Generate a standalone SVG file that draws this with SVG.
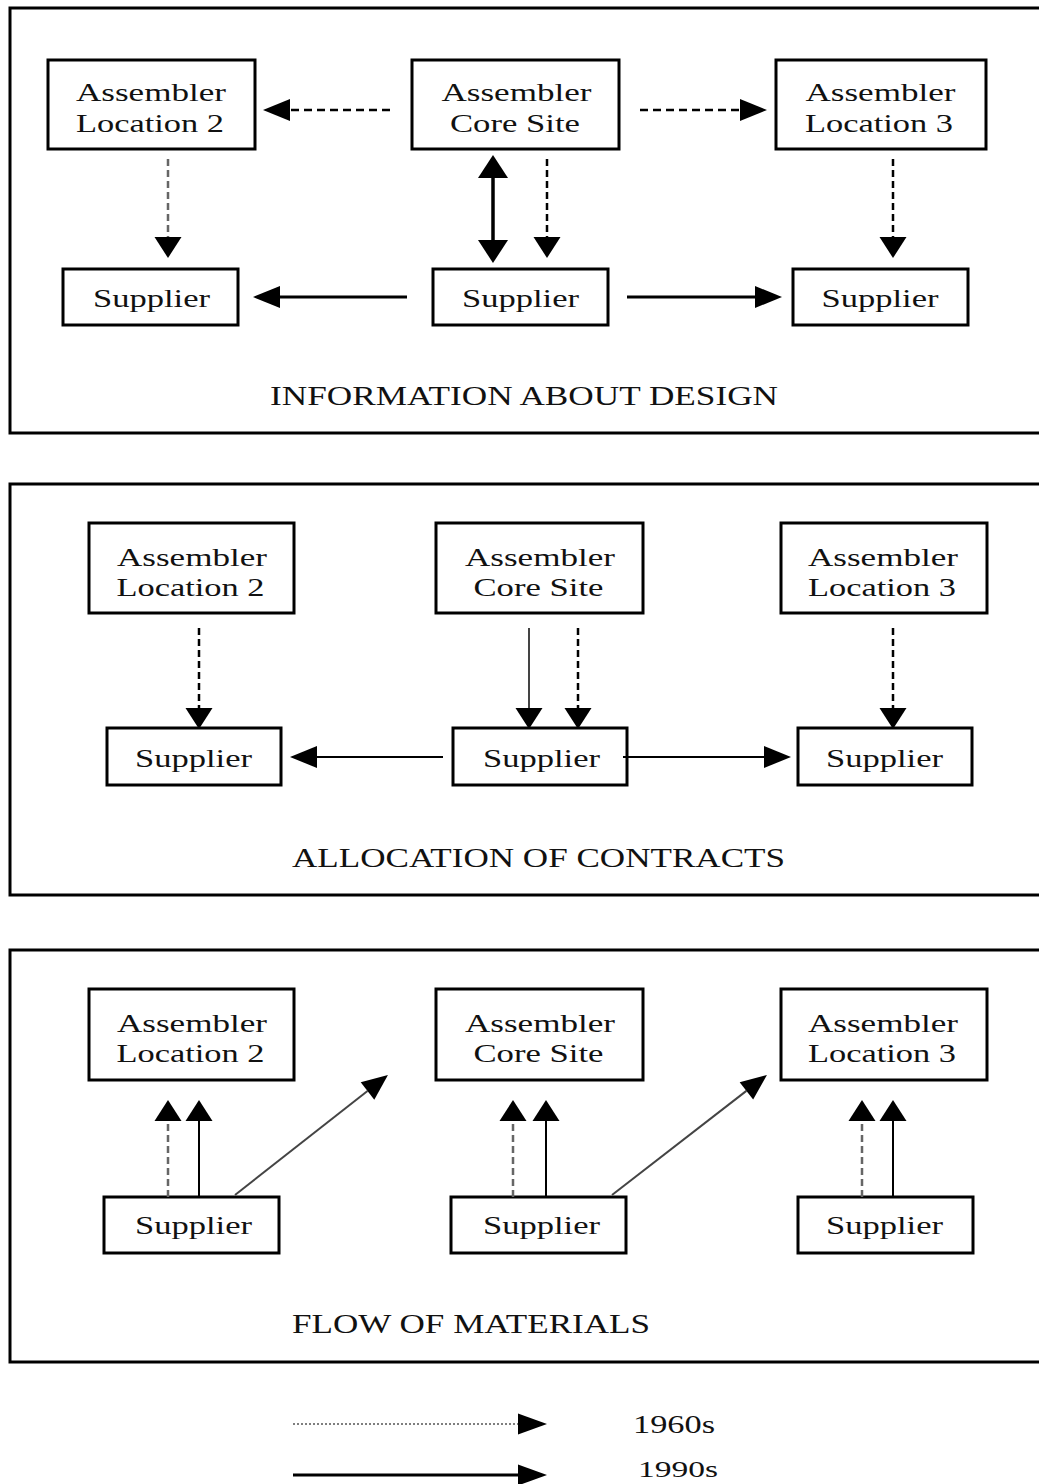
<svg xmlns="http://www.w3.org/2000/svg" width="1039" height="1484" viewBox="0 0 1039 1484">
<style>
.frame{fill:none;stroke:#000;stroke-width:3}
.box{fill:#fff;stroke:#000;stroke-width:3}
.t{font-family:"Liberation Serif","Times New Roman",serif;font-size:26px;fill:#111;text-anchor:middle}
.title{font-family:"Liberation Serif","Times New Roman",serif;font-size:27px;fill:#111}
.c{fill:none;stroke:#000}
.s3{stroke-width:3}
.s2{stroke-width:2}
.d{stroke-dasharray:8,5;stroke-width:2.5}
.dv{stroke-dasharray:7,4;stroke-width:2.5}
.g{stroke:#666}
.gs{stroke:#444}
</style>
<defs>
<marker id="mH" markerUnits="userSpaceOnUse" markerWidth="28" markerHeight="22" refX="0" refY="11" orient="auto" overflow="visible"><path d="M0,0 L27,11 L0,22 z" fill="#000"/></marker>
<marker id="mV" markerUnits="userSpaceOnUse" markerWidth="22" markerHeight="27" refX="0" refY="13.5" orient="auto" overflow="visible"><path d="M0,0 L21,13.5 L0,27 z" fill="#000"/></marker>
<marker id="mB" markerUnits="userSpaceOnUse" markerWidth="23" markerHeight="30" refX="0" refY="15" orient="auto-start-reverse" overflow="visible"><path d="M0,0 L23,15 L0,30 z" fill="#000"/></marker>
<marker id="mD" markerUnits="userSpaceOnUse" markerWidth="26" markerHeight="22" refX="0" refY="11" orient="auto" overflow="visible"><path d="M0,0 L26,11 L0,22 z" fill="#000"/></marker>
<marker id="mL" markerUnits="userSpaceOnUse" markerWidth="29" markerHeight="21" refX="0" refY="10.5" orient="auto" overflow="visible"><path d="M0,0 L29,10.5 L0,21 z" fill="#000"/></marker>
</defs>
<rect width="1039" height="1484" fill="#fff"/>

<!-- Panel frames -->
<g id="panels">
<rect class="frame" x="10" y="8" width="1040" height="425"/>
<rect class="frame" x="10" y="484" width="1040" height="411"/>
<rect class="frame" x="10" y="950" width="1040" height="412"/>
</g>

<!-- Panel 1 nodes -->
<g id="p1-loc2"><rect class="box" x="48" y="60" width="207" height="89"/><text class="t" x="151" y="101" textLength="150" lengthAdjust="spacingAndGlyphs">Assembler</text><text class="t" x="150" y="132" textLength="148" lengthAdjust="spacingAndGlyphs">Location 2</text></g>
<g id="p1-core"><rect class="box" x="412" y="60" width="207" height="89"/><text class="t" x="516.5" y="101" textLength="150" lengthAdjust="spacingAndGlyphs">Assembler</text><text class="t" x="515" y="132" textLength="130" lengthAdjust="spacingAndGlyphs">Core Site</text></g>
<g id="p1-loc3"><rect class="box" x="776" y="60" width="210" height="89"/><text class="t" x="880.5" y="101" textLength="150" lengthAdjust="spacingAndGlyphs">Assembler</text><text class="t" x="879" y="132" textLength="148" lengthAdjust="spacingAndGlyphs">Location 3</text></g>
<g id="p1-sup-l"><rect class="box" x="63" y="269" width="175" height="56"/><text class="t" x="151.5" y="307" textLength="117" lengthAdjust="spacingAndGlyphs">Supplier</text></g>
<g id="p1-sup-m"><rect class="box" x="433" y="269" width="175" height="56"/><text class="t" x="520.5" y="307" textLength="117" lengthAdjust="spacingAndGlyphs">Supplier</text></g>
<g id="p1-sup-r"><rect class="box" x="793" y="269" width="175" height="56"/><text class="t" x="880" y="307" textLength="117" lengthAdjust="spacingAndGlyphs">Supplier</text></g>
<text class="title" x="270" y="405" textLength="508" lengthAdjust="spacingAndGlyphs">INFORMATION ABOUT DESIGN</text>

<!-- Panel 2 nodes -->
<g id="p2-loc2"><rect class="box" x="89" y="523" width="205" height="90"/><text class="t" x="192" y="566" textLength="150" lengthAdjust="spacingAndGlyphs">Assembler</text><text class="t" x="190.5" y="596" textLength="148" lengthAdjust="spacingAndGlyphs">Location 2</text></g>
<g id="p2-core"><rect class="box" x="436" y="523" width="207" height="90"/><text class="t" x="540" y="566" textLength="150" lengthAdjust="spacingAndGlyphs">Assembler</text><text class="t" x="538.5" y="596" textLength="130" lengthAdjust="spacingAndGlyphs">Core Site</text></g>
<g id="p2-loc3"><rect class="box" x="781" y="523" width="206" height="90"/><text class="t" x="883" y="566" textLength="150" lengthAdjust="spacingAndGlyphs">Assembler</text><text class="t" x="882" y="596" textLength="148" lengthAdjust="spacingAndGlyphs">Location 3</text></g>
<g id="p2-sup-l"><rect class="box" x="107" y="728" width="174" height="57"/><text class="t" x="193.5" y="767" textLength="117" lengthAdjust="spacingAndGlyphs">Supplier</text></g>
<g id="p2-sup-m"><rect class="box" x="453" y="728" width="174" height="57"/><text class="t" x="541.5" y="767" textLength="117" lengthAdjust="spacingAndGlyphs">Supplier</text></g>
<g id="p2-sup-r"><rect class="box" x="798" y="728" width="174" height="57"/><text class="t" x="884.5" y="767" textLength="117" lengthAdjust="spacingAndGlyphs">Supplier</text></g>
<text class="title" x="292" y="867" textLength="493" lengthAdjust="spacingAndGlyphs">ALLOCATION OF CONTRACTS</text>

<!-- Panel 3 nodes -->
<g id="p3-loc2"><rect class="box" x="89" y="989" width="205" height="91"/><text class="t" x="192" y="1032" textLength="150" lengthAdjust="spacingAndGlyphs">Assembler</text><text class="t" x="190.5" y="1062" textLength="148" lengthAdjust="spacingAndGlyphs">Location 2</text></g>
<g id="p3-core"><rect class="box" x="436" y="989" width="207" height="91"/><text class="t" x="540" y="1032" textLength="150" lengthAdjust="spacingAndGlyphs">Assembler</text><text class="t" x="538.5" y="1062" textLength="130" lengthAdjust="spacingAndGlyphs">Core Site</text></g>
<g id="p3-loc3"><rect class="box" x="781" y="989" width="206" height="91"/><text class="t" x="883" y="1032" textLength="150" lengthAdjust="spacingAndGlyphs">Assembler</text><text class="t" x="882" y="1062" textLength="148" lengthAdjust="spacingAndGlyphs">Location 3</text></g>
<g id="p3-sup-l"><rect class="box" x="104" y="1197" width="175" height="56"/><text class="t" x="193.5" y="1234" textLength="117" lengthAdjust="spacingAndGlyphs">Supplier</text></g>
<g id="p3-sup-m"><rect class="box" x="451" y="1197" width="175" height="56"/><text class="t" x="541.5" y="1234" textLength="117" lengthAdjust="spacingAndGlyphs">Supplier</text></g>
<g id="p3-sup-r"><rect class="box" x="798" y="1197" width="175" height="56"/><text class="t" x="884.5" y="1234" textLength="117" lengthAdjust="spacingAndGlyphs">Supplier</text></g>
<text class="title" x="292" y="1333" textLength="358" lengthAdjust="spacingAndGlyphs">FLOW OF MATERIALS</text>

<!-- Connectors -->
<g id="connectors">
<!-- panel 1 -->
<path class="c d" d="M390,110 H290" marker-end="url(#mH)"/>
<path class="c d" d="M640,110 H740" marker-end="url(#mH)"/>
<path class="c" style="stroke-width:3.5" d="M493,178 V240" marker-start="url(#mB)" marker-end="url(#mB)"/>
<path class="c dv" d="M547,159 V237" marker-end="url(#mV)"/>
<path class="c dv g" d="M168,159 V237" marker-end="url(#mV)"/>
<path class="c dv" d="M893,159 V237" marker-end="url(#mV)"/>
<path class="c s3" d="M407,297 H280" marker-end="url(#mH)"/>
<path class="c s3" d="M627,297 H755" marker-end="url(#mH)"/>
<!-- panel 2 -->
<path class="c dv" d="M199,628 V708" marker-end="url(#mV)"/>
<path class="c s2 gs" d="M529,628 V708" marker-end="url(#mV)"/>
<path class="c dv" d="M578,628 V708" marker-end="url(#mV)"/>
<path class="c dv" d="M893,628 V708" marker-end="url(#mV)"/>
<path class="c s2" d="M443,757 H317" marker-end="url(#mH)"/>
<path class="c s2" d="M623,757 H764" marker-end="url(#mH)"/>
<!-- panel 3 -->
<path class="c dv g" d="M168,1197 V1121" marker-end="url(#mV)"/>
<path class="c s2" d="M199,1197 V1121" marker-end="url(#mV)"/>
<path class="c s2 gs" d="M235,1195 L367.5,1091" marker-end="url(#mD)"/>
<path class="c dv g" d="M513,1197 V1121" marker-end="url(#mV)"/>
<path class="c s2" d="M546,1197 V1121" marker-end="url(#mV)"/>
<path class="c s2 gs" d="M612,1195 L746.4,1090.9" marker-end="url(#mD)"/>
<path class="c dv g" d="M862,1197 V1121" marker-end="url(#mV)"/>
<path class="c s2" d="M893,1197 V1121" marker-end="url(#mV)"/>
</g>

<!-- Legend -->
<g id="legend">
<path class="c" style="stroke:#555;stroke-width:1.5;stroke-dasharray:2,2" d="M293,1424 H518" marker-end="url(#mL)"/>
<text class="t" x="674" y="1433" textLength="82" lengthAdjust="spacingAndGlyphs">1960s</text>
<path class="c s3" d="M293,1475 H518" marker-end="url(#mL)"/>
<text class="t" style="font-size:24px" x="678" y="1477" textLength="80" lengthAdjust="spacingAndGlyphs">1990s</text>
</g>
</svg>
